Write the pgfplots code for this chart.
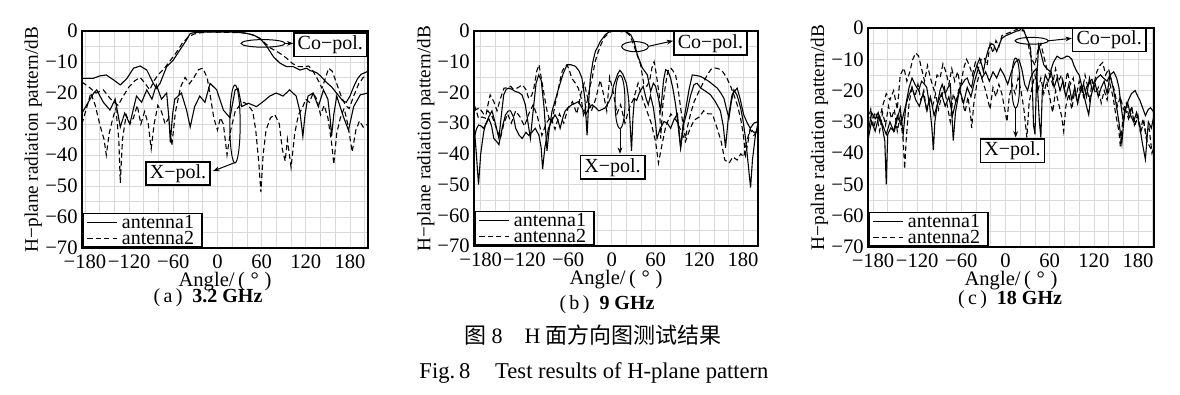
\documentclass[border=0pt]{standalone}
\usepackage{fontspec}
\setmainfont{Liberation Serif}
\newfontfamily\cjk{Noto Sans CJK SC}
\usepackage{pgfplots}
\pgfplotsset{compat=1.18}
\usetikzlibrary{arrows.meta}

\tikzset{
  sol/.style={black, line width=0.55pt, solid},
  das/.style={black, line width=0.55pt, dash pattern=on 2.6pt off 1.6pt},
  box/.style={draw, fill=white, line width=0.8pt, inner xsep=2pt, inner ysep=1.3pt, font=\fontsize{10}{10}\selectfont},
  arr/.style={-{Stealth[length=3.2pt,width=2.4pt]}, line width=0.5pt},
}
\pgfplotsset{
  hp/.style={
    scale only axis,
    anchor=north west,
    ymin=-70, ymax=0,
    xtick={-180,-160,...,200},
    xticklabels={−180,,,−120,,,−60,,,0,,,60,,,120,,,180,},
    ytick={-70,-65,...,0},
    yticklabels={−70,,−60,,−50,,−40,,−30,,−20,,−10,,0},
    grid=major,
    major grid style={gray!30, line width=0.35pt},
    major tick length=0pt,
    axis line style={line width=0.9pt},
    tick label style={font=\fontsize{10.3}{10}\selectfont},
    xticklabel style={anchor=center, yshift=-7pt},
    yticklabel style={anchor=east, inner xsep=0pt, xshift=-2pt},
    xlabel={Angle/\,(\;°\;)},
    xlabel style={at={(axis description cs:0.5,0)}, anchor=center, yshift=-16.8pt, font=\fontsize{10.3}{10}\selectfont},
    ylabel style={at={(axis description cs:-0.17,0.5)}, anchor=center, font=\fontsize{9.6}{10}\selectfont},
    legend style={at={(0,0)}, anchor=south west, draw=black, line width=0.8pt, fill=white,
      font=\fontsize{10}{8}\selectfont, inner xsep=2pt, inner ysep=0.6pt, row sep=0pt,
      nodes={text height=6.6pt, text depth=0.4pt, inner ysep=0.4pt}},
    legend cell align=left,
    legend image code/.code={\draw[#1, line width=0.55pt] (0pt,0pt) -- (15pt,0pt);},
  },
}

\begin{document}
\begin{tikzpicture}
\useasboundingbox (0pt,0pt) rectangle (590pt,197.5pt);

% ---------------- (a) 3.2 GHz ----------------
\begin{axis}[hp, at={(41pt,182pt)}, width=143pt, height=108.5pt,
  xmin=-184, xmax=204.5, ylabel={H−plane radiation pattern/dB}]
\addplot[sol] coordinates {(-184,-15.3) (-175,-15.3) (-169,-15.3) (-160,-14.5) (-151,-14.2) (-141,-15.8) (-132,-17.4) (-123,-15.3) (-114,-12) (-105,-11.3) (-96,-12.6) (-87,-16.9) (-83,-18.5) (-78,-16.9) (-69,-11.5) (-60,-9.4) (-51,-6.1) (-42,-2.9) (-37,-0.8) (-33,-0.6) (-24,-0.4) (-12,-0.3) (-1,-0.4) (10,-0.3) (21,-0.4) (32,-0.5) (40,-0.8) (49,-1.3) (58,-2.4) (67,-5) (76,-8.3) (85,-10.4) (94,-11.5) (103,-11.5) (112,-12.6) (121,-12) (126,-12.8) (130,-13) (135,-13.5) (140,-14.5) (145,-15.8) (150,-17) (155,-18) (160,-19.5) (165,-21) (170,-22.5) (175,-23) (180,-21) (185,-18) (190,-15.5) (195,-14) (204.5,-13)};
\addplot[das] coordinates {(-184,-16.5) (-175,-18) (-165,-20) (-155,-19) (-145,-22) (-135,-24) (-128,-21) (-120,-18) (-112,-16) (-105,-15) (-98,-17) (-92,-19) (-86,-16) (-80,-14) (-72,-12) (-64,-9.5) (-56,-7) (-48,-4) (-40,-2) (-32,-1) (-24,-0.6) (-10,-0.3) (0,-0.3) (10,-0.4) (25,-0.5) (40,-0.7) (50,-1.5) (58,-2.5) (65,-4) (72,-5.5) (80,-6.5) (88,-7.7) (95,-9) (102,-10.5) (110,-11.5) (118,-11.5) (124,-11.3) (130,-13) (137,-16) (142,-18.4) (147,-15) (151,-12) (156,-13) (162,-17) (168,-21) (174,-24) (179,-25) (185,-21) (192,-17) (198,-15) (204.5,-14)};
\legend{antenna1,antenna2}
\addplot[sol, forget plot] coordinates {(-184,-26.5) (-178,-24) (-173,-22) (-168,-20) (-164,-19) (-155,-23) (-146,-25.5) (-139,-22) (-135,-27) (-132,-31) (-126,-26.5) (-119,-30) (-110,-21) (-103,-23) (-96,-19) (-89,-22) (-83,-17.4) (-76,-22) (-69,-20) (-66,-28) (-64,-36) (-61,-27) (-58,-22) (-49,-20) (-42,-25.5) (-37,-31) (-31,-24.4) (-24,-21) (-17,-23) (-10,-16.9) (-1,-19) (8,-25.5) (17,-28) (24,-19) (28,-18.5) (33,-24.4) (42,-23.3) (53,-24.4) (62,-22.8) (71,-21) (80,-20) (89,-21) (98,-19) (107,-21) (112,-26) (116,-34) (119,-27) (123,-21) (130,-20) (137,-24.4) (144,-19) (150,-22) (153,-28) (155,-34) (158,-27) (162,-21) (171,-27.6) (178,-32) (185,-24.4) (194,-20.6) (204.5,-20)};
\addplot[das, forget plot] coordinates {(-184,-30) (-178,-25) (-172,-20) (-166,-24) (-160,-30) (-154,-35) (-151,-40) (-147,-33) (-142,-28) (-138,-25) (-134,-35) (-132,-49) (-129,-35) (-124,-27) (-119,-30) (-114,-28) (-109,-24) (-104,-30) (-99,-26) (-94,-30) (-90,-38) (-86,-30) (-81,-24) (-76,-26) (-71,-30) (-66,-28) (-62,-37) (-57,-26) (-50,-18) (-44,-15) (-38,-17) (-32,-15) (-26,-12.5) (-20,-12) (-14,-15) (-9,-22) (-5,-28) (0,-32) (4,-28) (8,-30) (13,-40) (18,-32) (24,-26) (30,-24) (36,-23) (42,-24) (48,-26) (52,-32) (56,-42) (59,-52) (62,-40) (66,-32) (72,-28) (78,-27) (84,-30) (88,-38) (92,-42) (95,-35) (100,-44) (105,-33) (110,-27) (115,-25) (120,-22) (125,-23) (130,-20) (135,-22) (140,-27) (145,-24) (150,-28) (155,-36) (158,-43) (162,-33) (167,-28) (172,-25) (177,-30) (183,-39) (188,-32) (193,-29) (198,-31) (204.5,-30)};
% annotations
\draw[line width=0.5pt] (axis cs:62,-4) ellipse [x radius=11pt, y radius=1.9pt];
\draw[arr] (axis cs:92,-4) -- (axis cs:103,-4);
\node[box, anchor=west] at (axis cs:102.5,-4.5) {Co−pol.};
\draw[line width=0.5pt] (axis cs:23.8,-30) ellipse [x radius=2.6pt, y radius=19.5pt];
\draw[arr] (axis cs:23,-42.5) -- (axis cs:-6,-45.2);
\node[box] at (axis cs:-53.6,-46) {X−pol.};
\end{axis}

% ---------------- (b) 9 GHz ----------------
\begin{axis}[hp, at={(237pt,182pt)}, width=142pt, height=107.5pt,
  xmin=-189.2, xmax=200.6, ylabel={H−plane radiation pattern/dB}]
\addplot[sol] coordinates {(-189,-31) (-186,-40) (-183,-50) (-180,-40) (-176,-33) (-173.6,-30.6) (-169,-28) (-164.5,-26) (-160,-30) (-155,-35) (-151,-26) (-148.4,-20.8) (-145,-19) (-141.6,-18.6) (-137,-19) (-132.4,-19.7) (-128,-20) (-123.3,-20.8) (-118.7,-24) (-115,-30) (-111.8,-35) (-108,-26) (-104,-17) (-100.4,-14.3) (-97,-16) (-93,-25) (-89,-39) (-86,-32) (-82,-26) (-77,-22) (-73,-18.6) (-67,-14) (-61.5,-11) (-56,-11) (-50,-11.5) (-45,-13) (-41,-15.4) (-37,-22) (-34,-34) (-31.5,-22) (-29.5,-15.4) (-26,-10) (-22.6,-6.6) (-19,-5) (-15.8,-3.4) (-12,-2.2) (-9,-1.2) (-2,0) (3,0) (10,0) (16.7,0) (22,-0.6) (25.9,-1.2) (30.4,-3.4) (35,-7.7) (41.8,-12) (48.7,-14.3) (53.3,-19.7) (57,-17) (60,-18) (64,-22) (67,-26) (71,-16) (73.8,-12.6) (77,-13) (80.7,-15.4) (84,-19) (87.5,-24) (91,-31) (94.4,-38) (98,-30) (101,-26) (106,-19) (110.4,-14.3) (116,-14.5) (121.8,-14.8) (127,-15.5) (133,-16.4) (139,-17.5) (144.7,-18.6) (149,-20) (153.8,-21.9) (157,-25) (160.7,-28.4) (164,-23) (167.5,-19.2) (172,-21) (176.7,-25) (180,-29) (183.5,-35) (187,-43) (190.4,-51) (193,-42) (197,-34) (200.6,-30)};
\addplot[das] coordinates {(-189,-24) (-186,-26) (-183,-28.4) (-178,-28) (-173.6,-28.4) (-170,-24) (-167,-20.8) (-162,-23) (-157.6,-26) (-153,-22) (-148,-18.6) (-143,-18.5) (-139,-18) (-135,-19) (-130,-18.6) (-126,-18) (-123,-17.5) (-118,-19) (-114,-22) (-110,-21) (-107,-18.6) (-103,-13) (-100,-11) (-96,-16.4) (-92,-22) (-89,-26) (-85,-29.5) (-82,-29.5) (-78,-24) (-75,-20.8) (-71,-16) (-68,-13) (-64,-11.5) (-61.5,-11) (-58,-13) (-55,-15.4) (-50,-17) (-46,-18.6) (-42,-22) (-39,-27.3) (-36,-25) (-33,-22) (-30,-18) (-27,-15.4) (-23,-10) (-20,-7.7) (-16,-5) (-11,-2.3) (-5,-0.8) (0,0) (8,0) (15,-0.3) (20,-0.5) (25,-1.5) (30,-4.5) (35,-8) (39.5,-11) (44,-17.5) (48,-18) (52,-16) (55,-12) (58,-10) (61,-14) (65,-20.8) (67,-35) (70,-24) (74,-17) (77,-13) (80.7,-12) (84,-13) (87.5,-14.3) (91,-19) (94.4,-25) (98,-31) (101,-35) (104,-31) (108,-27) (113,-23) (119.5,-19.7) (125,-17) (131,-14.3) (136,-12.5) (140,-12) (145,-12.2) (149,-12.6) (153,-13.5) (158,-15.4) (163,-18) (167.5,-20.8) (172,-24) (176.7,-28.4) (180,-33) (183.5,-40.4) (187,-36) (190,-31.7) (195,-33) (200.6,-32.8)};
\legend{antenna1,antenna2}
\addplot[sol, forget plot] coordinates {(-189,-35) (-186,-32) (-183,-30.6) (-179,-31) (-176,-31.7) (-172,-30) (-169,-28.4) (-165,-31) (-162,-35) (-158,-36) (-155,-37) (-150,-31) (-146,-27.3) (-142,-26) (-139,-26) (-135,-28) (-132,-31.7) (-127,-34) (-123,-35) (-118,-33) (-114,-34) (-110,-33) (-105,-31.7) (-100,-34) (-97,-38) (-95,-45) (-92,-38) (-87,-31.7) (-82,-29) (-78,-27.3) (-74,-29) (-71,-31.7) (-67,-28) (-64,-26) (-60,-25) (-55,-24) (-50,-23.5) (-46,-23) (-41,-25) (-36,-27.3) (-31,-25) (-27,-24) (-22,-25) (-18,-26) (-13,-25.5) (-9,-25) (-4,-23) (0,-20.8) (2,-18) (5,-16) (8,-14) (11,-12.8) (15,-14) (20,-17) (23,-22) (25,-30) (27,-39) (29,-28) (31,-22) (34,-22.6) (38,-20) (43,-18) (47,-22) (50,-24) (53,-21) (57,-25) (60,-30) (62,-35) (66,-32) (71.5,-29.5) (76,-30) (80.7,-31.7) (85,-29) (90,-27) (94.4,-38) (99,-30) (103.5,-26) (108,-21) (112.7,-17.5) (117,-17) (122,-18.6) (128,-19.5) (135.5,-20.8) (142,-23) (149,-26) (153,-31) (156,-38) (160,-28) (165,-20.8) (172,-18.6) (176,-22) (181,-27.3) (186,-30) (190,-31.7) (195,-30) (200.6,-29.5)};
\addplot[das, forget plot] coordinates {(-189,-26) (-182,-25) (-176,-27) (-170,-26) (-164,-28) (-158,-32) (-153,-35) (-148,-30) (-143,-27) (-138,-30) (-132,-26) (-126,-28) (-120,-31) (-114,-27) (-108,-24) (-102,-28) (-96,-34) (-90,-30) (-84,-28) (-78,-32) (-72,-27) (-66,-30) (-60,-25) (-54,-23) (-48,-27) (-42,-20) (-38,-17) (-34,-21) (-28,-26) (-22,-22) (-16,-16) (-12,-20) (-7,-26) (-3,-15) (2,-20) (7,-27) (12,-24) (18,-30) (24,-25) (30,-22) (36,-17) (42,-22) (48,-26) (54,-30) (60,-36) (64,-43) (68,-38) (74,-31) (81,-27) (88,-29) (94,-32) (101,-36) (107,-32) (113,-29) (120,-28) (126,-26) (132,-27) (138,-27) (145,-32) (150,-36) (155,-42) (161,-43) (166,-41) (172,-42) (177,-40) (181,-41) (185,-36) (190,-32) (195,-34) (200.6,-32)};
\draw[line width=0.5pt] (axis cs:31.8,-5.1) ellipse [x radius=6.7pt, y radius=2.5pt];
\draw[arr] (axis cs:50,-5) -- (axis cs:84,-3.2);
\node[box, anchor=west] at (axis cs:84,-4) {Co−pol.};
\draw[line width=0.5pt] (axis cs:11.2,-23.1) ellipse [x radius=2.5pt, y radius=13.3pt];
\draw[arr] (axis cs:11.2,-31.8) -- (axis cs:11.2,-40);
\node[box] at (axis cs:1,-44.4) {X−pol.};
\end{axis}

% ---------------- (c) 18 GHz ----------------
\begin{axis}[hp, at={(434pt,183.5pt)}, width=143pt, height=109.5pt,
  xmin=-186.8, xmax=201.7, ylabel={H−palne radiation pattern/dB}]
\addplot[sol] coordinates {(-187,-34) (-182,-27) (-177,-29) (-173,-27) (-168,-31) (-164,-36) (-162,-50) (-160,-34) (-156,-32) (-151,-33) (-147,-29) (-143,-25.5) (-139,-34) (-135,-24) (-131,-19) (-127,-16) (-123,-18) (-118,-20) (-114,-17) (-110,-18) (-107,-19) (-103,-25) (-100,-32) (-98,-39) (-96,-30) (-93,-25) (-89,-20) (-86,-18) (-82,-21) (-78,-19) (-75,-18) (-73,-27) (-71,-36) (-68,-27) (-65,-23) (-62,-19) (-59,-18) (-55,-16.5) (-52,-16) (-49,-18) (-46,-19) (-43,-15) (-39,-12) (-35,-9.7) (-32,-12) (-30,-14) (-27,-10) (-23,-6.5) (-19,-5) (-16,-5.4) (-12,-7.5) (-8,-5) (-5,-3.3) (0,-2.5) (5,-2) (10,-1.5) (15,-1) (19,-0.8) (22,0) (25,-1) (29,-3.3) (32,-5) (34,-6.5) (36,-15) (38,-31) (40,-34) (42,-18) (45,-5.5) (48,-8) (52,-11.8) (56,-13) (61,-14) (65,-11) (70,-9) (75,-9.8) (79,-9.6) (83,-9) (86,-9.1) (90,-10) (93,-12) (97,-14) (100,-15) (103,-18) (106,-21) (110,-25) (113,-27.7) (116,-22) (120,-18) (124,-16) (129,-15) (133,-16) (138,-17) (142,-15) (147,-14) (151,-16) (154,-19) (157,-25) (160,-30) (163,-26) (167,-23) (171,-21) (176,-20) (180,-22) (183,-23.4) (187,-26) (190,-28) (194,-26) (197,-25.5) (201.7,-27)};
\addplot[das] coordinates {(-187,-26) (-182,-30) (-177,-27) (-172,-30) (-167,-25) (-162,-21) (-157,-23) (-152,-20) (-147,-26) (-143,-15) (-138,-12.8) (-134,-17) (-130,-14) (-126,-10) (-122,-8) (-118,-9) (-114,-13) (-110,-17) (-106,-12) (-102,-16) (-97,-20) (-93,-15) (-89,-16) (-85,-11.5) (-81,-14) (-77,-18) (-73,-13) (-69,-17) (-65,-14) (-61,-19) (-57,-13) (-53,-10) (-49,-12) (-45,-15) (-41,-11) (-37,-13) (-33,-10) (-29,-9.5) (-25,-12) (-21,-5) (-17,-8) (-13,-4) (-9,-6) (-5,-2.5) (-1,-2) (5,-1.5) (10,-1) (15,-0.5) (20,-1) (25,-0.8) (30,-4) (33,-8) (36,-10) (40,-12) (44,-7) (48,-5) (52,-9) (56,-13) (60,-15) (64,-18) (68,-13) (72,-17) (76,-15) (80,-20) (84,-14) (88,-18) (92,-16) (96,-22) (100,-17) (104,-21) (108,-15) (112,-19) (116,-16) (120,-18) (124,-14) (128,-12) (132,-11) (136,-15) (140,-13) (144,-17) (148,-20) (152,-25) (156,-22) (160,-26) (164,-24) (168,-29) (172,-26) (176,-31) (180,-28) (184,-33) (188,-30) (192,-36) (196,-38) (201.7,-40)};
\legend{antenna1,antenna2}
\addplot[sol, forget plot] coordinates {(-187,-36) (-182,-30) (-177,-33) (-172,-28) (-167,-31) (-162,-34) (-157,-30) (-152,-33) (-147,-28) (-142,-31) (-137,-26) (-132,-22) (-127,-19) (-122,-23) (-117,-25) (-112,-21) (-107,-26) (-102,-22) (-97,-28) (-92,-24) (-87,-21) (-82,-25) (-77,-22) (-72,-28) (-67,-23) (-62,-20) (-57,-24) (-52,-19) (-47,-22) (-42,-17) (-37,-13) (-32,-16) (-27,-14) (-22,-17) (-17,-14) (-12,-16) (-7,-13) (-2,-15) (3,-18) (8,-14) (13,-11) (18,-10) (22,-13) (26,-18) (30,-20) (34,-16) (38,-14) (42,-13) (46,-30) (48,-35) (50,-20) (54,-15) (58,-17) (62,-14) (66,-19) (70,-16) (74,-20) (78,-17) (82,-22) (86,-18) (90,-23) (94,-19) (98,-24) (102,-20) (106,-18) (110,-22) (114,-16) (118,-20) (122,-18) (126,-22) (130,-19) (134,-17) (138,-21) (142,-15) (146,-19) (150,-24) (154,-30) (158,-37) (162,-26) (166,-24) (170,-28) (174,-30) (178,-27) (182,-31) (186,-37) (190,-42) (194,-30) (198,-32) (201.7,-28)};
\addplot[das, forget plot] coordinates {(-187,-30) (-183,-26) (-179,-32) (-175,-28) (-171,-33) (-167,-27) (-163,-31) (-159,-25) (-155,-29) (-151,-26) (-147,-33) (-143,-28) (-139,-36) (-137,-45) (-135,-36) (-131,-24) (-127,-19) (-123,-22) (-119,-18) (-115,-23) (-111,-20) (-107,-27) (-103,-22) (-99,-25) (-95,-21) (-91,-26) (-87,-22) (-83,-19) (-79,-25) (-75,-30) (-71,-21) (-67,-24) (-63,-19) (-59,-23) (-55,-27) (-51,-22) (-47,-29) (-46,-32) (-43,-24) (-39,-18) (-35,-14) (-31,-17) (-27,-20) (-23,-24) (-21,-26) (-17,-19) (-13,-22) (-9,-18) (-5,-21) (-1,-26) (2,-30) (5,-22) (9,-18) (13,-21) (17,-16) (21,-20) (25,-26) (29,-35) (32,-24) (36,-19) (40,-15) (44,-20) (48,-16) (52,-21) (56,-17) (60,-22) (64,-27) (68,-20) (72,-24) (76,-28) (79,-33) (82,-25) (86,-21) (90,-26) (94,-20) (98,-24) (102,-18) (106,-22) (110,-19) (114,-23) (118,-17) (122,-21) (126,-19) (130,-24) (134,-20) (138,-23) (142,-18) (146,-22) (150,-28) (154,-33) (156,-38) (159,-30) (163,-26) (167,-29) (171,-25) (175,-31) (179,-28) (183,-33) (187,-29) (191,-35) (195,-32) (199,-40) (201.7,-38)};
\draw[line width=0.5pt] (axis cs:35.6,-4.1) ellipse [x radius=8.3pt, y radius=1.7pt];
\draw[arr] (axis cs:58,-4.1) -- (axis cs:90,-3.3);
\node[box, anchor=west] at (axis cs:90,-3.8) {Co−pol.};
\draw[line width=0.5pt] (axis cs:13.8,-17.6) ellipse [x radius=2pt, y radius=12.5pt];
\draw[arr] (axis cs:13.8,-25.6) -- (axis cs:13.8,-35);
\node[box] at (axis cs:9.5,-39.3) {X−pol.};
\end{axis}

% ---------------- captions ----------------
\node[anchor=base, font=\fontsize{10}{10}\selectfont] at (104pt,46pt) {(\,a\,)\enspace\textbf{3.2 GHz}};
\node[anchor=base, font=\fontsize{10}{10}\selectfont] at (303.5pt,42.5pt) {(\,b\,)\enspace\textbf{9 GHz}};
\node[anchor=base, font=\fontsize{10}{10}\selectfont] at (505pt,45pt) {(\,c\,)\enspace\textbf{18 GHz}};
\node[anchor=center, font=\fontsize{11}{11}\selectfont] at (296.5pt,30pt) {{\cjk 图} 8\hspace{1em}H {\cjk 面方向图测试结果}};
\node[anchor=base, font=\fontsize{11.3}{11.3}\selectfont] at (297pt,8.3pt) {Fig.\,8\hspace{1.1em}Test results of H-plane pattern};
\end{tikzpicture}
\end{document}
